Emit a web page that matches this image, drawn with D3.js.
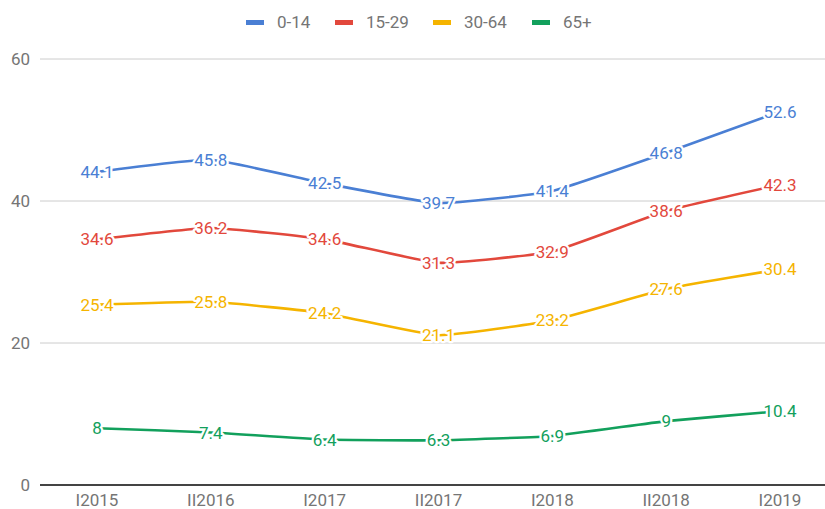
<!DOCTYPE html>
<html lang="en">
<head>
<meta charset="UTF-8">
<title>Age groups</title>
<script src="https://d3js.org/d3.v7.min.js"></script>
<style>
  body { margin: 0; background: #fff; }
  text { font-family: Roboto, "Noto Sans", sans-serif; }
</style>
</head>
<body>
<div id="wrapper"></div>
<script>
// categories on the x axis
const periods = ["I2015", "II2016", "I2017", "II2017", "I2018", "II2018", "I2019"];

// one array per age group
const age0_14  = [44.1, 45.8, 42.5, 39.7, 41.4, 46.8, 52.6];
const age15_29 = [34.6, 36.2, 34.6, 31.3, 32.9, 38.6, 42.3];
const age30_64 = [25.4, 25.8, 24.2, 21.1, 23.2, 27.6, 30.4];
const age65    = [8, 7.4, 6.4, 6.3, 6.9, 9, 10.4];

const seriesNames = ["0-14", "15-29", "30-64", "65+"];
const yTicks = [0, 20, 40, 60];

const colors = ["#4a7fd4", "#e2483c", "#f5b400", "#12a05c"];

const width = 825, height = 509;

const series = [age0_14, age15_29, age30_64, age65].map((vals, i) => ({
  name: seriesNames[i],
  color: colors[i],
  values: vals.map((v, j) => ({ period: periods[j], value: v }))
}));

const svg = d3.select("#wrapper")
  .append("svg")
    .attr("width", width)
    .attr("height", height);

// scales
const x = d3.scalePoint()
  .domain(periods)
  .range([97, 780]);

const y = d3.scaleLinear()
  .domain([0, 60])
  .range([485, 59]);

// gridlines + y labels
const grid = svg.append("g");
grid.selectAll("line")
  .data(yTicks.filter(d => d !== 0))
  .join("line")
    .attr("x1", 40).attr("x2", width)
    .attr("y1", d => y(d)).attr("y2", d => y(d))
    .attr("stroke", "#cccccc")
    .attr("stroke-width", 1);

grid.selectAll("text")
  .data(yTicks)
  .join("text")
    .attr("x", 30)
    .attr("y", d => y(d))
    .attr("dy", "0.36em")
    .attr("text-anchor", "end")
    .style("font-size", "17px")
    .style("fill", "#757575")
    .text(d => d);

// baseline
svg.append("line")
  .attr("x1", 40).attr("x2", width)
  .attr("y1", y(0)).attr("y2", y(0))
  .attr("stroke", "#444")
  .attr("stroke-width", 2);

// x axis labels
svg.append("g")
  .selectAll("text")
  .data(periods)
  .join("text")
    .attr("x", d => x(d))
    .attr("y", 506)
    .attr("text-anchor", "middle")
    .style("font-size", "17px")
    .style("fill", "#757575")
    .text(d => d);

// lines, only slightly smoothed
const line = d3.line()
  .x(d => x(d.period))
  .y(d => y(d.value))
  .curve(d3.curveCardinal.tension(0.6));

svg.append("g")
  .selectAll("path")
  .data(series)
  .join("path")
    .attr("fill", "none")
    .attr("stroke", d => d.color)
    .attr("stroke-width", 2.6)
    .attr("d", d => line(d.values));

// data labels, white halo over the line
svg.append("g")
  .selectAll("g")
  .data(series)
  .join("g")
    .style("fill", d => d.color)
  .selectAll("text")
  .data(d => d.values)
  .join("text")
    .attr("x", d => x(d.period))
    .attr("y", d => y(d.value))
    .attr("dy", "0.36em")
    .attr("text-anchor", "middle")
    .style("font-size", "17px")
    .style("stroke", "#fff")
    .style("stroke-width", 4.5)
    .style("stroke-linejoin", "round")
    .style("paint-order", "stroke")
    .text(d => d.value);

// legend
const legendX = [246, 335, 433, 532];
const legend = svg.append("g")
  .selectAll("g")
  .data(series)
  .join("g")
    .attr("transform", (d, i) => `translate(${legendX[i]},22)`);

legend.append("rect")
  .attr("x", 0).attr("y", -2)
  .attr("width", 18).attr("height", 5)
  .attr("fill", d => d.color);

legend.append("text")
  .attr("x", 31)
  .attr("dy", "0.36em")
  .style("font-size", "17px")
  .style("fill", "#757575")
  .text(d => d.name);
</script>
</body>
</html>
